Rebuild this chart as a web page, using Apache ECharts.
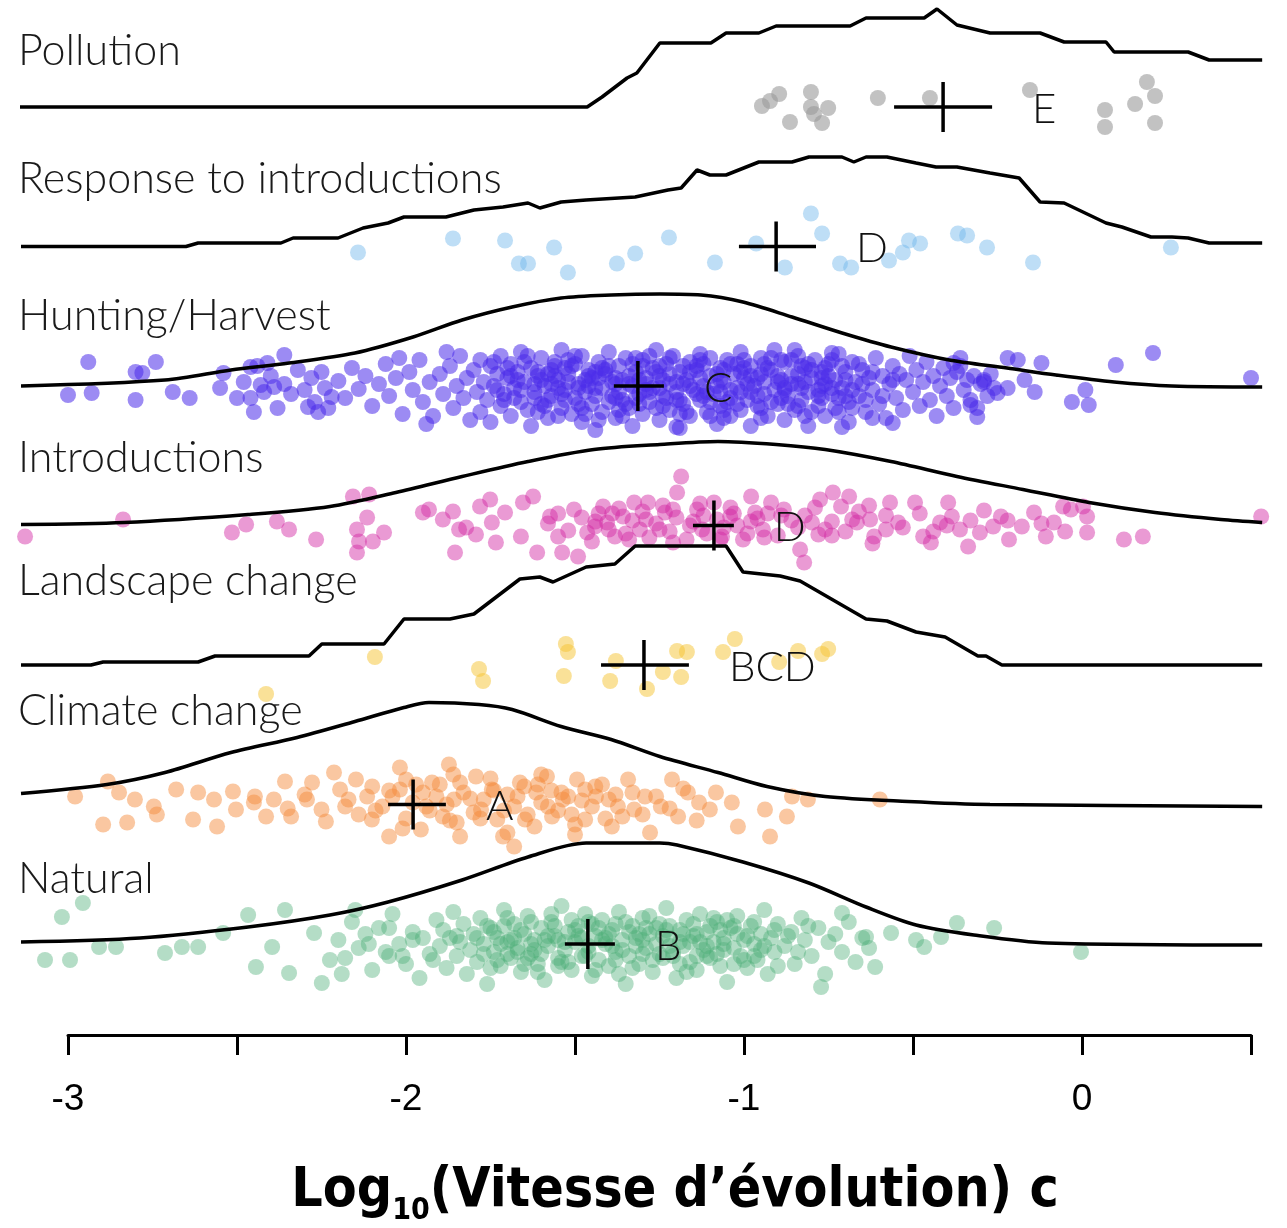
<!DOCTYPE html>
<html><head><meta charset="utf-8">
<script src="https://cdn.jsdelivr.net/npm/echarts@6/dist/echarts.min.js"></script>
<style>html,body{margin:0;padding:0;background:#fff}#c{width:1287px;height:1228px}</style>
</head><body><div id="c"></div>
<script>
// ---------- DATA ----------
const categories = ['Natural','Climate change','Landscape change','Introductions','Hunting/Harvest','Response to introductions','Pollution'];
const groupLetters = ['B','A','BCD','D','C','D','E'];
const meanValues = [-1.462,-1.979,-1.296,-1.089,-1.314,-0.905,-0.411];
const ciLow      = [-1.530,-2.053,-1.423,-1.151,-1.385,-1.015,-0.556];
const ciHigh     = [-1.382,-1.882,-1.163,-1.030,-1.237,-0.787,-0.266];
const xTickLabels = ['-3','-2','-1','0'];
const pointColors = ['#4caf78','#f58a3a','#f5c431','#d42ba6','#4b2bea','#6fb5ec','#9a9a9a'];
const pointOpacity = [0.42,0.48,0.5,0.48,0.55,0.45,0.6];

// density curves (x = log10 rate, h = density height)
const natDensX = [-3.139,-2.787,-2.467,-2.225,-2.053,-1.834,-1.639,-1.467,-1.249,-1.198,-1.003,-0.808,-0.639,-0.491,-0.320,-0.101,0.533];
const natDensH = [0.02,0.06,0.17,0.29,0.42,0.64,0.87,1.01,1.01,0.99,0.82,0.61,0.37,0.19,0.09,0.01,-0.01];
const cliDensX = [-3.139,-2.885,-2.713,-2.518,-2.322,-2.151,-2.006,-1.932,-1.784,-1.686,-1.541,-1.393,-1.249,-1.077,-0.932,-0.760,-0.515,-0.272,0.533];
const cliDensH = [0.11,0.20,0.32,0.52,0.67,0.83,0.97,1.02,1.00,0.95,0.78,0.65,0.48,0.32,0.18,0.08,0.03,0,-0.02];
const lanDensX = [-3.139,-2.932,-2.896,-2.615,-2.565,-2.287,-2.249,-2.065,-2.006,-1.870,-1.799,-1.663,-1.604,-1.565,-1.467,-1.382,-1.322,-1.053,-1.003,-0.893,-0.834,-0.639,-0.577,-0.491,-0.405,-0.308,-0.284,-0.237,0.533];
const lanDensH = [0,0,0.03,0.03,0.09,0.09,0.21,0.21,0.46,0.46,0.51,0.86,0.88,0.83,0.98,1.01,1.19,1.19,0.93,0.89,0.84,0.46,0.44,0.33,0.28,0.09,0.09,0,0];
const intDensX = [-3.139,-2.834,-2.467,-2.225,-2.030,-1.834,-1.639,-1.444,-1.249,-1.077,-0.905,-0.760,-0.565,-0.370,-0.175,0.021,0.216,0.411,0.533];
const intDensH = [0.01,0.03,0.11,0.19,0.33,0.49,0.64,0.76,0.81,0.84,0.81,0.76,0.64,0.49,0.36,0.23,0.13,0.06,0.03];
const hunDensX = [-3.139,-2.713,-2.518,-2.346,-2.151,-1.979,-1.834,-1.686,-1.541,-1.393,-1.249,-1.127,-1.003,-0.858,-0.710,-0.565,-0.393,-0.222,-0.077,0.095,0.266,0.533];
const hunDensH = [0,0.06,0.16,0.23,0.33,0.49,0.66,0.79,0.88,0.91,0.92,0.91,0.84,0.69,0.53,0.39,0.26,0.18,0.11,0.04,0,-0.01];
const resDensX = [-3.139,-2.651,-2.615,-2.370,-2.334,-2.201,-2.127,-2.053,-2.006,-1.882,-1.799,-1.713,-1.639,-1.604,-1.541,-1.467,-1.322,-1.225,-1.186,-1.139,-1.101,-1.053,-0.956,-0.858,-0.808,-0.710,-0.675,-0.639,-0.577,-0.491,-0.432,-0.370,-0.272,-0.186,-0.124,-0.053,0.071,0.118,0.204,0.266,0.314,0.376,0.533];
const resDensH = [0,0,0.035,0.035,0.085,0.085,0.185,0.235,0.295,0.295,0.365,0.395,0.435,0.385,0.445,0.465,0.495,0.565,0.585,0.765,0.715,0.715,0.845,0.845,0.895,0.895,0.845,0.895,0.895,0.835,0.795,0.795,0.735,0.685,0.445,0.435,0.235,0.195,0.095,0.095,0.085,0.035,0.035];
const polDensX = [-3.142,-1.464,-1.420,-1.346,-1.317,-1.249,-1.098,-1.053,-0.956,-0.905,-0.686,-0.639,-0.467,-0.429,-0.370,-0.272,-0.124,-0.053,0.071,0.095,0.314,0.376,0.533];
const polDensH = [0,0,0.10,0.29,0.34,0.64,0.64,0.74,0.74,0.81,0.81,0.89,0.89,0.98,0.82,0.74,0.74,0.65,0.65,0.55,0.55,0.47,0.47];

// observations: [log10 rate, vertical jitter]
const polPoints = [[-0.947,0.01],[-0.923,0.06],[-0.896,0.13],[-0.864,-0.15],[-0.802,0.15],[-0.802,0.0],[-0.793,-0.07],[-0.769,-0.16],[-0.751,-0.01],[-0.604,0.09],[-0.450,0.09],[-0.154,0.17],[0.068,-0.03],[0.068,-0.20],[0.157,0.03],[0.192,0.25],[0.216,0.11],[0.216,-0.16]];
const resPoints = [[-2.142,-0.06],[-1.861,0.08],[-1.707,0.06],[-1.666,-0.17],[-1.639,-0.17],[-1.562,-0.01],[-1.521,-0.26],[-1.376,-0.17],[-1.322,-0.07],[-1.222,0.09],[-1.086,-0.16],[-0.964,0.03],[-0.879,-0.21],[-0.802,0.33],[-0.769,0.13],[-0.716,-0.17],[-0.683,-0.21],[-0.571,-0.14],[-0.530,-0.06],[-0.512,0.06],[-0.479,0.03],[-0.367,0.13],[-0.340,0.11],[-0.281,-0.01],[-0.145,-0.16],[0.263,-0.01]];
const lanPoints = [[-2.414,-0.29],[-2.092,0.08],[-1.784,-0.04],[-1.772,-0.16],[-1.527,0.21],[-1.521,0.13],[-1.533,-0.11],[-1.396,-0.16],[-1.379,0.04],[-1.287,-0.24],[-1.240,-0.07],[-1.198,0.14],[-1.186,-0.12],[-1.169,0.13],[-1.062,0.13],[-1.027,0.26],[-0.896,0.03],[-0.840,0.14],[-0.769,0.11],[-0.751,0.16]];
const intPoints = [[-3.127,-0.11],[-2.837,0.06],[-2.515,-0.07],[-2.473,0.01],[-2.382,0.04],[-2.346,-0.04],[-2.266,-0.14],[-2.157,0.29],[-2.109,0.31],[-2.145,-0.04],[-2.115,0.08],[-2.145,-0.27],[-2.139,-0.16],[-2.098,-0.16],[-2.065,-0.07],[-1.950,0.13],[-1.932,0.16],[-1.891,0.06],[-1.855,-0.27],[-1.861,0.14],[-1.843,-0.04],[-1.822,-0.02],[-1.793,-0.09],[-1.781,0.19],[-1.751,0.26],[-1.746,0.03],[-1.734,-0.17],[-1.707,0.13],[-1.654,0.23],[-1.660,-0.11],[-1.624,0.29],[-1.612,-0.27],[-1.574,0.09],[-1.550,-0.11],[-1.538,-0.27],[-1.503,0.16],[-1.491,-0.31],[-1.464,-0.07],[-1.441,-0.01],[-1.417,0.19],[-1.405,0.03],[-1.382,-0.11],[-1.358,0.09],[-1.325,0.23],[-1.186,0.49],[-1.198,0.33],[-1.284,0.23],[-1.308,-0.04],[-1.234,0.13],[-1.210,-0.17],[-1.139,0.16],[-1.124,-0.04],[-1.089,0.23],[-1.065,-0.11],[-1.041,0.09],[-1.003,-0.14],[-0.979,0.29],[-0.967,0.13],[-0.944,-0.04],[-0.920,0.23],[-0.882,0.16],[-0.834,-0.24],[-0.822,-0.37],[-0.799,0.03],[-0.775,0.26],[-0.760,-0.04],[-0.737,0.33],[-0.713,0.19],[-0.689,0.29],[-0.666,0.03],[-0.627,0.06],[-0.615,-0.11],[-0.580,-0.04],[-0.568,0.23],[-0.544,0.03],[-0.494,0.23],[-0.470,-0.11],[-0.447,-0.17],[-0.420,0.03],[-0.396,0.23],[-0.385,0.09],[-0.361,-0.04],[-0.337,-0.21],[-0.302,-0.07],[-0.263,-0.01],[-0.240,0.09],[-0.216,-0.14],[-0.178,-0.01],[-0.142,0.13],[-0.107,-0.11],[-0.083,0.03],[-0.056,0.19],[-0.033,0.16],[0.003,0.19],[0.015,0.09],[0.015,-0.07],[0.124,-0.14],[0.180,-0.11],[0.530,0.09],
[-1.58,0.02],[-1.55,0.12],[-1.52,-0.05],[-1.48,0.08],[-1.45,-0.16],[-1.43,0.12],[-1.40,-0.04],[-1.37,0.17],[-1.35,-0.08],[-1.33,0.05],[-1.30,0.14],[-1.28,-0.12],[-1.26,0.02],[-1.24,0.20],[-1.22,-0.06],[-1.20,0.08],[-1.17,-0.14],[-1.15,0.04],[-1.13,0.22],[-1.11,-0.08],[-1.08,0.06],[-1.06,-0.02],[-1.04,0.18],[-1.02,0.0],[-0.99,-0.08],[-0.96,0.07],[-0.93,0.12],[-0.90,-0.10],[-0.86,0.05],[-0.82,0.10],[-0.78,-0.09],[-0.74,0.04],[-0.70,-0.06],[-0.66,0.14],[-0.62,-0.18],[-0.58,0.10],[-0.53,-0.02],[-0.48,0.12],[-0.44,-0.06],[-0.40,0.00],[-0.33,0.05],[-0.29,0.15],[-0.22,0.05],[-0.12,0.02],[-0.05,-0.06],
[-1.44,0.04],[-1.39,0.12],[-1.34,-0.14],[-1.29,0.06],[-1.25,-0.04],[-1.21,0.16],[-1.16,0.00],[-1.12,0.10],[-1.07,-0.14],[-1.03,0.12],[-0.98,0.04],[-0.94,-0.12],[-0.89,0.10],[-0.84,-0.02],[-0.79,0.18],[-0.74,-0.10],[-0.68,0.06],[-0.63,0.20]];
const hunPoints = [[-2.94,0.24],[-3.00,-0.09],[-2.93,-0.07],[-2.80,0.14],[-2.78,0.13],[-2.74,0.24],[-2.80,-0.14],[-2.69,-0.06],[-2.64,-0.12],[-2.55,-0.02],[-2.54,0.13],[-2.50,-0.12],[-2.45,-0.26],[-2.46,0.19],[-2.41,0.23],[-2.36,0.31],[-2.43,0.01],[-2.39,-0.01],[-2.29,-0.21],[-2.27,-0.16],[-2.22,-0.11],
[0.21,0.33],[0.10,0.21],[0.50,0.08],[0.01,-0.04],[-0.03,-0.16],[0.02,-0.19],[-0.12,0.23],[-0.14,-0.06],[-0.19,0.26],[-0.22,0.28],[-0.17,0.06],[-0.22,-0.02],[-0.25,-0.07],[-0.31,-0.31],[-0.33,-0.19],[-0.36,0.28],[-0.38,0.23],[-0.29,0.06],[-0.56,-0.37],[-0.71,-0.41],[-0.85,0.36],[-0.74,0.33],[-1.20,-0.41],[-1.06,-0.32],
[-2.48,0.04],[-2.46,-0.12],[-2.44,0.20],[-2.42,-0.06],[-2.40,0.10],[-2.38,-0.22],[-2.36,0.02],[-2.34,-0.08],[-2.32,0.16],[-2.30,-0.04],[-2.28,0.08],[-2.26,-0.26],[-2.25,0.14],[-2.24,-0.02],
[-2.20,0.05],[-2.18,-0.12],[-2.16,0.18],[-2.14,-0.03],[-2.12,0.10],[-2.10,-0.20],[-2.08,0.02],[-2.06,0.22],[-2.05,-0.10],[-2.03,0.08],[-2.01,-0.28],[-1.99,0.14],[-1.98,-0.04],[-1.96,0.26],[-1.95,-0.16],[-1.93,0.04],[-1.92,-0.30],[-1.90,0.12],[-1.89,-0.08],[-1.87,0.20],[-1.86,-0.22],[-1.85,0.00],[-1.84,0.30],[-1.83,-0.12],[-1.82,0.08],[-1.81,-0.34],[-2.23,-0.22],[-2.02,0.28],[-1.94,-0.38],[-1.88,0.34],
[-1.80,0.16],[-1.79,-0.06],[-1.78,0.26],[-1.78,-0.26],[-1.77,0.04],[-1.76,-0.14],[-1.75,0.20],[-1.75,-0.36],[-1.74,0.00],[-1.73,0.12],[-1.72,-0.20],[-1.72,0.30],[-1.71,-0.08],[-1.70,0.08],[-1.69,-0.30],[-1.69,0.22],[-1.68,-0.02],[-1.67,0.14],[-1.66,-0.16],[-1.66,0.34],[-1.65,0.04],[-1.64,-0.24],[-1.63,0.18],[-1.63,-0.40],[-1.62,-0.06],[-1.61,0.10],[-1.60,0.28],[-1.60,-0.18],[-1.59,0.00],[-1.58,-0.32],[-1.57,0.16],[-1.57,-0.10],[-1.56,0.24],[-1.55,0.06],[-1.54,-0.22],[-1.54,0.36],[-1.53,-0.04],[-1.52,0.12],[-1.51,-0.28],[-1.51,0.20],[-1.50,-0.12],[-1.49,0.02],[-1.48,0.30],[-1.48,-0.36],[-1.47,-0.06],[-1.46,0.16],[-1.45,-0.18],[-1.45,0.08],[-1.44,-0.44],[-1.43,0.24],[-1.42,-0.02],[-1.42,-0.26],[-1.41,0.12],[-1.40,0.34],[-1.39,-0.10],[-1.39,0.04],[-1.38,-0.32],[-1.37,0.20],[-1.36,-0.14],[-1.36,0.06],[-1.35,0.28],[-1.34,-0.22],[-1.33,0.00],[-1.33,-0.40],[-1.32,0.14],[-1.31,-0.08],[-1.30,0.26],[-1.30,-0.28],[-1.29,0.08],[-1.28,-0.16],[-1.27,0.18],[-1.27,-0.02],[-1.26,0.36],[-1.25,-0.34],[-1.25,0.10],[-1.24,-0.10],[-1.23,0.22],[-1.22,-0.24],[-1.22,0.02],[-1.21,0.30],[-1.20,-0.06],[-1.19,0.14],[-1.19,-0.42],[-1.18,-0.18],[-1.17,0.06],[-1.16,0.24],[-1.16,-0.30],[-1.15,-0.04],[-1.14,0.16],[-1.13,-0.14],[-1.13,0.32],[-1.12,0.00],[-1.11,-0.26],[-1.10,0.10],[-1.10,0.28],[-1.09,-0.08],[-1.08,-0.38],[-1.07,0.18],[-1.07,-0.20],[-1.06,0.04],[-1.05,0.26],[-1.04,-0.12],[-1.04,-0.30],[-1.03,0.12],[-1.02,-0.02],[-1.01,0.34],[-1.01,-0.24],[-1.00,0.08],[-0.99,-0.14],[-0.98,0.20],[-0.98,-0.40],[-0.97,0.00],[-0.96,-0.20],[-0.95,0.28],[-0.95,0.12],[-0.94,-0.08],[-0.93,-0.30],[-0.92,0.16],[-0.91,-0.04],[-0.91,0.36],[-0.90,-0.18],[-0.89,0.06],[-0.88,0.24],[-0.88,-0.34],[-0.87,-0.10],[-0.86,0.10],[-0.85,-0.24],[-0.84,0.30],[-0.84,0.02],[-0.83,-0.14],[-0.82,0.18],[-0.81,-0.06],[-0.81,-0.40],[-0.80,0.08],[-0.79,0.26],[-0.78,-0.20],[-0.77,0.00],[-0.77,0.14],[-0.76,-0.30],[-0.75,0.22],[-0.74,-0.08],[-0.73,0.06],[-0.73,-0.22],[-0.72,0.32],[-0.71,-0.02],[-0.70,0.14],[-0.69,-0.16],[-0.69,-0.36],[-0.68,0.24],[-0.67,0.04],[-0.66,-0.10],[-0.65,0.16],[-0.64,-0.26],[-0.63,0.08],[-0.62,-0.04],[-0.61,0.28],[-0.60,-0.18],[-0.59,0.10],[-0.58,-0.32],[-0.57,0.02],[-0.56,0.20],[-0.55,-0.12],[-0.54,0.12],[-0.53,-0.24],[-0.52,0.06],[-0.51,0.30],[-0.50,-0.06],[-0.49,0.16],[-0.48,-0.20],[-0.47,0.04],[-0.46,0.24],[-0.45,-0.14],[-0.44,0.10],[-0.43,-0.30],[-0.42,0.00],[-0.41,0.18],[-0.40,-0.10],[-0.39,0.08],
[-1.70,0.18],[-1.68,-0.12],[-1.65,0.24],[-1.62,0.02],[-1.59,-0.20],[-1.56,0.10],[-1.53,-0.14],[-1.50,0.22],[-1.47,0.06],[-1.44,-0.10],[-1.41,0.16],[-1.38,0.02],[-1.35,-0.18],[-1.32,0.28],[-1.29,-0.04],[-1.26,0.14],[-1.23,-0.12],[-1.20,0.04],[-1.17,-0.26],[-1.14,0.20],[-1.11,-0.06],[-1.08,0.12],[-1.05,-0.16],[-1.02,0.22],[-0.99,0.02],[-0.96,-0.10],[-0.93,0.18],[-0.90,0.04],[-0.87,-0.18],[-0.84,0.12],[-0.81,0.22],[-0.78,-0.04],[-0.75,0.10],[-0.72,-0.12],[-1.66,-0.04],[-1.61,0.14],[-1.55,-0.30],[-1.49,-0.02],[-1.43,0.08],[-1.37,-0.24],[-1.31,0.06],[-1.25,0.20],[-1.19,-0.14],[-1.13,0.08],[-1.07,-0.06],[-1.01,0.14],[-0.95,-0.22],[-0.89,0.26],[-0.83,-0.02],[-0.77,-0.12],
[-0.38,-0.22],[-0.37,0.14],[-0.36,0.20],[-0.35,-0.04],[-0.34,0.06],[-0.33,-0.14],[-0.32,0.10],[-0.31,-0.22],[-0.30,0.02],[-0.29,0.04],[-0.28,-0.10],[-0.27,0.12],[-0.26,-0.02],
[-1.74,0.24],[-1.71,-0.14],[-1.67,0.06],[-1.64,0.30],[-1.61,-0.26],[-1.58,0.12],[-1.55,-0.02],[-1.52,0.26],[-1.49,-0.18],[-1.46,0.00],[-1.43,-0.34],[-1.40,0.20],[-1.37,-0.06],[-1.34,0.10],[-1.31,-0.18],[-1.28,0.30],[-1.25,-0.02],[-1.22,0.12],[-1.19,-0.28],[-1.16,0.00],[-1.13,0.26],[-1.10,-0.16],[-1.07,0.06],[-1.04,0.22],[-1.01,-0.06],[-0.98,0.10],[-0.95,-0.32],[-0.92,0.28],[-0.89,-0.12],[-0.86,0.02],[-0.83,0.20],[-0.80,-0.26],[-0.77,0.08],[-0.74,-0.02],[-0.71,0.20],[-0.68,-0.22],[-0.65,0.02],[-0.62,0.14],[-0.59,-0.10],[-0.56,0.06],[-1.73,-0.04],[-1.69,0.10],[-1.62,-0.12],[-1.57,0.02],[-1.53,0.18],[-1.47,-0.28],[-1.44,0.14],[-1.38,-0.12],[-1.33,0.22],[-1.29,0.02],[-1.24,-0.20],[-1.18,0.20],[-1.12,-0.10],[-1.06,-0.24],[-1.00,0.18],[-0.94,0.04],[-0.88,-0.04],[-0.82,-0.30],[-0.76,0.18],[-0.70,-0.10],
[-1.60,0.06],[-1.58,-0.14],[-1.56,0.20],[-1.54,-0.08],[-1.52,0.04],[-1.50,0.30],[-1.48,-0.22],[-1.46,0.10],[-1.44,-0.02],[-1.42,0.18],[-1.40,-0.16],[-1.38,0.08],[-1.36,-0.30],[-1.34,0.02],[-1.32,-0.12],[-1.30,0.20],[-1.28,-0.06],[-1.26,-0.22],[-1.24,0.06],[-1.22,0.28],[-1.20,-0.14],[-1.18,0.02],[-1.16,0.14],[-1.14,-0.08],[-1.12,0.22],[-1.10,-0.30],[-1.08,0.00],[-1.06,0.16],[-1.04,-0.04],[-1.02,-0.18],[-1.00,0.26],[-0.98,-0.06],[-0.96,0.08],[-0.94,0.22],[-0.92,-0.16],[-0.90,0.10],[-0.88,-0.02],[-0.86,0.26],[-0.84,-0.20],[-0.82,0.04],[-0.80,0.16],[-0.78,-0.10],[-0.76,0.02],[-0.74,0.26],[-0.72,-0.26],[-0.70,0.06],[-0.68,-0.04],[-0.66,0.22],[-0.64,-0.14],[-0.62,-0.32]];
const cliPoints = [[-2.979,0.08],[-2.896,-0.20],[-2.882,0.23],[-2.825,-0.18],[-2.849,0.12],[-2.802,0.05],[-2.746,-0.02],[-2.737,-0.10],[-2.680,0.15],[-2.630,-0.15],[-2.615,0.12],[-2.568,0.05],[-2.559,-0.22],[-2.512,0.13],[-2.503,-0.05],[-2.447,0.08],[-2.414,-0.12],[-2.391,0.05],[-2.358,0.23],[-2.340,-0.12],[-2.293,0.05],[-2.278,0.22],[-2.237,-0.17],[-2.213,0.32],[-2.195,0.15],[-2.180,-0.02],[-2.148,0.25],[-2.115,0.08],[-2.101,-0.15],[-2.050,-0.32],[-2.018,0.37],[-2.018,0.15],[-1.956,-0.25],[-1.923,0.22],[-1.891,-0.12],[-1.873,0.40],[-1.858,0.05],[-1.840,-0.32],[-1.793,0.28],[-1.778,-0.05],[-1.746,0.15],[-1.713,-0.32],[-1.680,-0.42],[-1.663,0.22],[-1.648,-0.15],[-1.615,0.12],[-1.583,0.28],[-1.568,-0.12],[-1.536,0.05],[-1.494,0.25],[-1.470,-0.15],[-1.438,0.08],[-1.391,-0.22],[-1.373,-0.02],[-1.343,0.25],[-1.325,-0.05],[-1.293,0.08],[-1.278,-0.28],[-1.246,-0.02],[-1.213,0.25],[-1.195,-0.12],[-1.166,0.12],[-1.133,0.02],[-1.101,-0.05],[-1.083,0.12],[-1.036,0.02],[-1.018,-0.22],[-0.938,-0.05],[-0.923,-0.32],[-0.873,-0.12],[-0.858,0.08],[-0.811,0.05],[-0.598,0.05],
[-2.17,0.05],[-2.14,-0.10],[-2.10,0.18],[-2.07,-0.02],[-2.04,0.08],[-2.00,-0.14],[-1.98,0.02],[-1.95,0.12],[-1.93,-0.06],[-1.90,0.20],[-1.88,0.00],[-1.85,-0.18],[-1.83,0.12],[-1.80,-0.08],[-1.77,0.05],[-1.75,0.26],[-1.73,-0.15],[-1.70,0.10],[-1.68,-0.02],[-1.65,0.18],[-1.62,-0.22],[-1.60,0.02],[-1.57,0.14],[-1.55,-0.06],[-1.52,0.08],[-1.50,-0.20],[-1.47,0.15],[-1.45,-0.02],[-1.42,0.20],[-1.40,0.05],[-1.36,-0.12],[-1.33,0.12],[-1.30,-0.10],[-1.26,0.08],[-1.22,-0.04],[-1.18,0.16],[-1.14,-0.16],[-2.25,-0.05],[-2.30,0.10],[-2.35,-0.04],[-2.45,0.02],[-2.00,0.25],[-1.86,0.30],[-1.70,-0.28],[-1.60,0.30],[-1.50,-0.30],
[-2.09,-0.06],[-2.05,0.14],[-2.01,-0.24],[-1.97,0.20],[-1.94,-0.02],[-1.91,0.08],[-1.87,-0.16],[-1.84,0.22],[-1.81,0.06],[-1.78,-0.14],[-1.74,0.14],[-1.71,-0.06],[-1.67,0.08],[-1.64,-0.10],[-1.61,0.20],[-1.58,-0.02],[-1.54,0.12],[-1.51,-0.10],[-1.48,0.04],[-1.44,0.18],[-1.41,-0.14],[-1.38,0.10]];
const natPoints = [[-2.956,0.41],[-3.018,0.27],[-3.068,-0.16],[-2.994,-0.16],[-2.908,-0.03],[-2.858,-0.03],[-2.713,-0.09],[-2.663,-0.03],[-2.615,-0.03],[-2.541,0.11],[-2.467,0.29],[-2.444,-0.23],[-2.358,0.34],[-2.346,-0.29],[-2.396,-0.03],[-2.272,0.11],[-2.249,-0.39],[-2.225,-0.16],[-0.491,0.04],[-0.417,0.07],[-0.370,0.21],[-0.260,0.16],[-0.467,-0.03],[-0.612,-0.23],[-0.565,0.11],[-0.772,-0.43],[-0.003,-0.08],[-0.710,0.31],[-0.639,0.07],
[-2.20,0.04],[-2.18,-0.14],[-2.16,0.22],[-2.14,-0.04],[-2.12,0.10],[-2.10,-0.26],[-2.08,0.16],[-2.06,-0.08],[-2.04,0.30],[-2.02,0.00],[-2.00,-0.20],[-1.98,0.12],[-1.96,-0.34],[-1.95,0.06],[-1.93,-0.10],[-1.91,0.24],
[-1.90,-0.02],[-1.89,0.14],[-1.88,-0.24],[-1.87,0.06],[-1.86,0.32],[-1.85,-0.12],[-1.84,0.02],[-1.83,0.20],[-1.82,-0.30],[-1.81,-0.06],[-1.80,0.10],[-1.79,-0.18],[-1.78,0.26],[-1.77,0.00],[-1.76,-0.40],[-1.75,0.16],[-1.74,-0.08],[-1.73,0.06],[-1.72,-0.22],[-1.71,0.34],[-1.70,0.02],[-1.69,-0.14],[-1.68,0.20],[-1.67,-0.04],[-1.66,-0.28],[-1.65,0.10],[-1.64,0.28],[-1.63,-0.10],[-1.62,0.04],[-1.61,-0.20],[-1.60,0.16],[-1.59,-0.36],[-1.58,-0.02],[-1.57,0.22],[-1.56,0.08],[-1.55,-0.14],[-1.54,0.38],[-1.53,-0.06],[-1.52,0.12],[-1.51,-0.26],[-1.50,0.02],[-1.49,0.18],[-1.48,-0.12],[-1.47,0.30],[-1.46,-0.02],[-1.45,-0.32],[-1.44,0.08],[-1.43,-0.16],[-1.42,0.24],[-1.41,0.00],[-1.40,-0.22],[-1.39,0.14],[-1.38,-0.08],[-1.37,0.32],[-1.36,0.04],[-1.35,-0.40],[-1.34,-0.12],[-1.33,0.18],[-1.32,0.06],[-1.31,-0.20],[-1.30,0.26],[-1.29,-0.04],[-1.28,0.10],[-1.27,-0.28],[-1.26,0.00],[-1.25,0.20],[-1.24,-0.14],[-1.23,0.36],[-1.22,0.06],[-1.21,-0.08],[-1.20,-0.34],[-1.19,0.14],[-1.18,-0.02],[-1.17,0.24],[-1.16,-0.18],[-1.15,0.08],[-1.14,-0.26],[-1.13,0.30],[-1.12,-0.06],[-1.11,0.12],[-1.10,-0.14],[-1.09,0.02],[-1.08,0.22],[-1.07,-0.22],[-1.06,0.06],[-1.05,-0.38],[-1.04,0.16],[-1.03,-0.04],[-1.02,0.28],[-1.01,-0.12],[-1.00,0.04],[-0.99,-0.24],[-0.98,0.18],[-0.97,0.00],[-0.96,-0.16],[-0.95,0.10],[-0.94,0.34],[-0.93,-0.30],[-0.92,0.06],[-0.91,-0.08],
[-0.90,0.20],[-0.88,-0.02],[-0.86,0.12],[-0.85,-0.20],[-0.83,0.26],[-0.82,0.04],[-0.80,-0.12],[-0.78,0.16],[-0.76,-0.30],[-0.75,0.02],[-0.73,0.10],[-0.71,-0.08],[-0.69,0.22],[-0.67,-0.18],[-0.65,0.06],[-0.63,-0.04],
[-1.74,0.12],[-1.70,-0.10],[-1.66,0.14],[-1.62,-0.06],[-1.58,0.08],[-1.54,-0.18],[-1.50,0.14],[-1.46,-0.08],[-1.42,0.04],[-1.38,-0.16],[-1.34,0.12],[-1.30,-0.10],[-1.26,0.16],[-1.22,-0.02],[-1.18,0.10],[-1.14,-0.12],[-1.10,0.18],[-1.06,-0.06],[-1.02,0.10],[-1.72,0.00],[-1.64,-0.14],[-1.56,0.18],[-1.48,0.06],[-1.40,0.10],[-1.32,-0.02],[-1.24,0.08],[-1.16,0.02],[-1.08,-0.10],
[-2.19,-0.30],[-2.15,0.34],[-2.11,0.00],[-2.05,0.16],[-2.01,-0.12],
[-1.79,0.06],[-1.75,-0.24],[-1.71,0.18],[-1.67,-0.08],[-1.63,0.22],[-1.59,0.04],[-1.55,-0.22],[-1.51,0.24],[-1.47,-0.12],[-1.43,0.16],[-1.39,-0.02],[-1.35,0.22],[-1.31,0.10],[-1.27,-0.16],[-1.23,0.14],[-1.19,-0.20],[-1.15,0.20],[-1.11,-0.02],[-1.07,0.14],[-1.03,-0.20],[-0.99,0.08],[-0.95,-0.06],[-0.91,0.14],[-1.77,-0.10],[-1.69,0.04],[-1.61,-0.28],[-1.53,0.02],[-1.45,0.20],[-1.37,-0.30],[-1.29,0.16],[-1.21,-0.12],[-1.13,0.02],[-1.05,0.24],[-0.97,-0.12],
[-1.76,0.18],[-1.73,-0.16],[-1.70,0.26],[-1.68,0.06],[-1.65,-0.20],[-1.63,0.00],[-1.60,-0.10],[-1.57,0.30],[-1.55,0.04],[-1.52,-0.18],[-1.49,0.08],[-1.46,0.22],[-1.44,-0.26],[-1.41,0.06],[-1.38,0.20],[-1.36,-0.06],[-1.33,-0.24],[-1.30,0.04],[-1.28,0.28],[-1.25,-0.10],[-1.22,0.18],[-1.19,0.02],[-1.17,-0.28],[-1.14,0.10],[-1.11,-0.12],[-1.09,0.26],[-1.06,0.00],[-1.03,0.18],[-1.00,-0.16],[-0.97,0.22],[-0.94,-0.02],[-0.90,-0.22],[-0.87,0.08],[-0.84,-0.08],[-0.81,0.18],[-1.85,0.08],[-1.92,-0.16],[-1.98,0.04],[-2.05,-0.12]];

// ---------- LAYOUT ----------
const RIDGE0 = 0.66, RIDGE_STEP = 1.395;   // baseline positions on hidden y axis
const base = k => RIDGE0 + RIDGE_STEP * k;
const densX = [natDensX, cliDensX, lanDensX, intDensX, hunDensX, resDensX, polDensX];
const densH = [natDensH, cliDensH, lanDensH, intDensH, hunDensH, resDensH, polDensH];
const pts = [natPoints, cliPoints, lanPoints, intPoints, hunPoints, resPoints, polPoints];
const smoothFlag = [0.3, 0.3, false, 0.3, 0.3, false, false];
const labelCenterY = [879, 711, 581, 458, 316, 179, 51];
const LABEL_FONT = '300 43px Lato, "Open Sans", sans-serif';

const series = [];
for (let k = 0; k < 7; k++) {
  series.push({
    type: 'scatter', xAxisIndex: 0, yAxisIndex: 0, symbolSize: 16, z: 1,
    itemStyle: {color: pointColors[k], opacity: pointOpacity[k]},
    data: pts[k].map(p => [p[0], base(k) + p[1]]), silent: true
  });
}
for (let k = 0; k < 7; k++) {
  series.push({
    type: 'line', xAxisIndex: 0, yAxisIndex: 0, showSymbol: false, z: 3,
    smooth: smoothFlag[k],
    lineStyle: {color: '#000', width: 3.5}, silent: true,
    data: densX[k].map((x, i) => [x, base(k) + densH[k][i]])
  });
}
series.push({
  type: 'custom', xAxisIndex: 0, yAxisIndex: 0, z: 5, silent: true,
  data: meanValues.map((m, k) => [m, ciLow[k], ciHigh[k], base(k)]),
  renderItem: function (params, api) {
    const m = api.value(0), lo = api.value(1), hi = api.value(2), b = api.value(3);
    const pl = api.coord([lo, b]), ph = api.coord([hi, b]);
    const top = api.coord([m, b + 0.25]), bot = api.coord([m, b - 0.25]);
    return {type: 'group', children: [
      {type: 'line', shape: {x1: pl[0], y1: pl[1], x2: ph[0], y2: ph[1]}, style: {stroke: '#000', lineWidth: 3.5}},
      {type: 'line', shape: {x1: top[0], y1: top[1], x2: bot[0], y2: bot[1]}, style: {stroke: '#000', lineWidth: 3.5}},
      {type: 'text', x: ph[0] + 40, y: ph[1] + 2, style: {text: groupLetters[params.dataIndex], fill: '#111',
        font: '300 42px Lato, "Open Sans", sans-serif', textVerticalAlign: 'middle', textAlign: 'left'}}
    ]};
  }
});

const graphics = categories.map((c, k) => ({
  type: 'text', x: 18, y: labelCenterY[k], silent: true,
  style: {text: c, fill: '#1a1a1a', font: LABEL_FONT, textVerticalAlign: 'middle'}
}));
graphics.push({
  type: 'text', x: 675, y: 1192, silent: true,
  style: {
    text: '{a|Log}{s|10}{a|(Vitesse d’évolution) c}',
    textAlign: 'center', textVerticalAlign: 'middle',
    rich: {
      a: {fontFamily: '"DejaVu Sans Condensed", "Liberation Sans Narrow", sans-serif', fontWeight: 'bold', fontSize: 55, lineHeight: 68, verticalAlign: 'middle', fill: '#000'},
      s: {fontFamily: '"DejaVu Sans Condensed", "Liberation Sans Narrow", sans-serif', fontWeight: 'bold', fontSize: 30, lineHeight: 30, verticalAlign: 'bottom', fill: '#000'}
    }
  }
});

const chart = echarts.init(document.getElementById('c'), null, {renderer: 'canvas'});
chart.setOption({
  animation: false,
  backgroundColor: '#fff',
  grid: [
    {left: 20, right: 25, top: 0, height: 1010},
    {left: 68, right: 36, top: 1000, height: 35}
  ],
  xAxis: [
    {gridIndex: 0, type: 'value', min: -3.142, max: 0.5325, show: false},
    {gridIndex: 1, type: 'value', min: -3, max: 0.5, interval: 0.5, position: 'bottom',
     splitLine: {show: false},
     axisLine: {show: true, lineStyle: {color: '#000', width: 3}},
     axisTick: {show: true, length: 20, lineStyle: {color: '#000', width: 3}},
     axisLabel: {margin: 46, color: '#000', fontSize: 37, fontFamily: '"Liberation Sans Narrow", "Liberation Sans", Arial, sans-serif',
       formatter: v => { const i = [-3, -2, -1, 0].indexOf(Math.round(v * 100) / 100); return i >= 0 ? xTickLabels[i] : ''; }}}
  ],
  yAxis: [
    {gridIndex: 0, type: 'value', min: 0, max: 10.1, show: false},
    {gridIndex: 1, type: 'value', min: 0, max: 1, show: false}
  ],
  graphic: graphics,
  series: series
});
</script></body></html>
